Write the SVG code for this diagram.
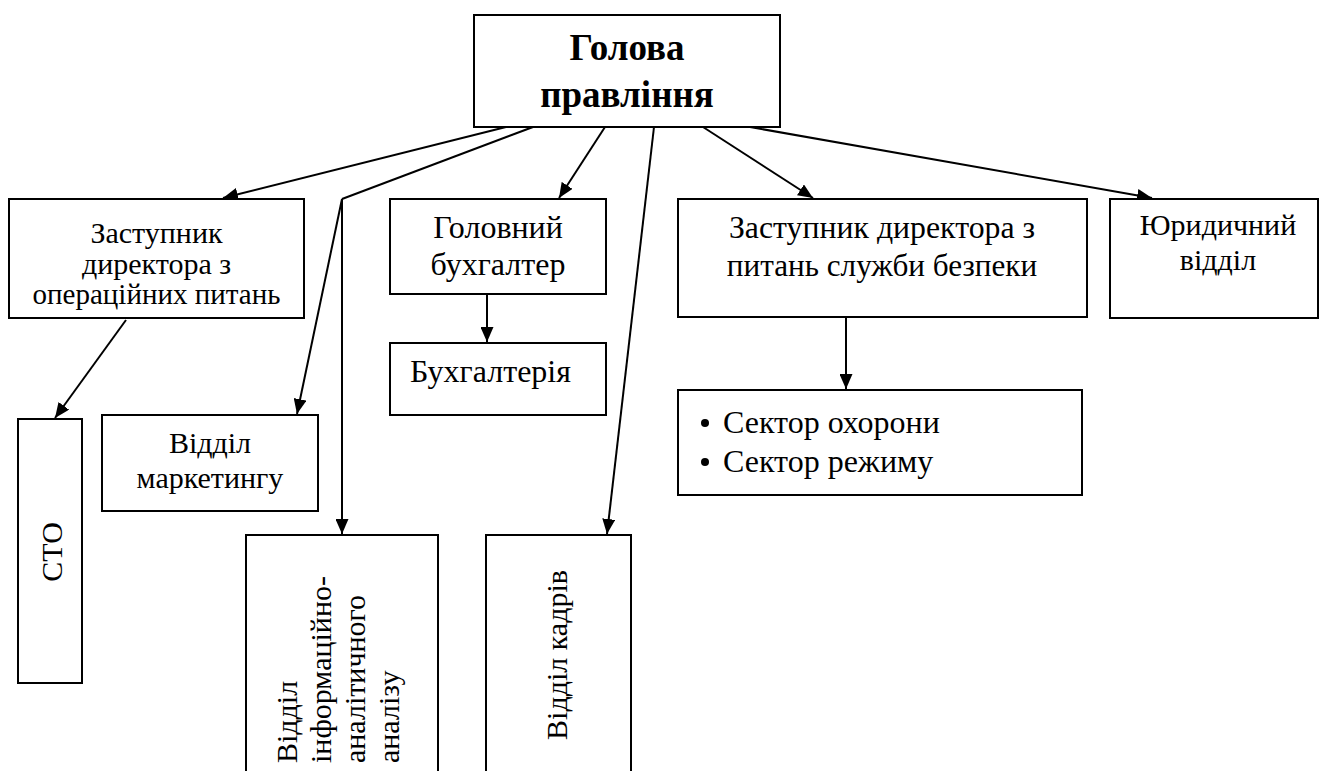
<svg xmlns="http://www.w3.org/2000/svg" width="1319" height="771" viewBox="0 0 1319 771">
<style>
.box{fill:#fff;stroke:#000;stroke-width:2}
text{font-family:'Liberation Serif','Times New Roman',serif;font-size:30px;fill:#000}
.c{text-anchor:middle}
.b{font-weight:bold;font-size:37px}
.l{font-size:32px}
.ln{fill:none;stroke:#000;stroke-width:2}
</style>
<defs>
<marker id="ah" markerWidth="15" markerHeight="13" refX="15" refY="6.5" orient="auto" markerUnits="userSpaceOnUse">
<path d="M0,0 L15,6.5 L0,13 Z" fill="#000"/>
</marker>
</defs>
<rect width="1319" height="771" fill="#fff"/>
<g id="connectors">
<line class="ln" x1="506" y1="127" x2="223" y2="198" marker-end="url(#ah)"/>
<polyline class="ln" points="533,127 342,199"/>
<line class="ln" x1="342" y1="199" x2="297" y2="414" marker-end="url(#ah)"/>
<line class="ln" x1="342" y1="199" x2="342" y2="534" marker-end="url(#ah)"/>
<line class="ln" x1="605" y1="127" x2="559" y2="198" marker-end="url(#ah)"/>
<line class="ln" x1="654" y1="127" x2="607" y2="534" marker-end="url(#ah)"/>
<line class="ln" x1="703" y1="127" x2="813" y2="198" marker-end="url(#ah)"/>
<line class="ln" x1="750" y1="127" x2="1152" y2="198" marker-end="url(#ah)"/>
<line class="ln" x1="126" y1="320" x2="55" y2="418" marker-end="url(#ah)"/>
<line class="ln" x1="487" y1="295" x2="487" y2="342" marker-end="url(#ah)"/>
<line class="ln" x1="846" y1="318" x2="846" y2="389" marker-end="url(#ah)"/>
</g>
<g id="n-head">
<rect class="box" x="474" y="15" width="306" height="112"/>
<text class="b c" x="627" y="60">Голова</text>
<text class="b c" x="627" y="107">правління</text>
</g>
<g id="n-deputy-ops">
<rect class="box" x="9" y="199" width="295" height="119"/>
<text class="c" x="156.5" y="243">Заступник</text>
<text class="c" x="156.5" y="274">директора з</text>
<text class="c" x="156.5" y="304" style="font-size:29px">операційних питань</text>
</g>
<g id="n-chief-acc">
<rect class="box" x="390" y="199" width="216" height="95"/>
<text class="c l" x="498" y="238">Головний</text>
<text class="c l" x="498" y="275">бухгалтер</text>
</g>
<g id="n-accounting">
<rect class="box" x="390" y="343" width="216" height="72"/>
<text class="l" x="410" y="382">Бухгалтерія</text>
</g>
<g id="n-deputy-sec">
<rect class="box" x="678" y="199" width="409" height="118"/>
<text class="c" x="882" y="238" style="font-size:31.8px">Заступник директора з</text>
<text class="c" x="882" y="276" style="font-size:31.2px">питань служби безпеки</text>
</g>
<g id="n-legal">
<rect class="box" x="1110" y="199" width="208" height="119"/>
<text class="c" x="1218" y="235">Юридичний</text>
<text class="c" x="1218" y="270">відділ</text>
</g>
<g id="n-sectors">
<rect class="box" x="678" y="390" width="404" height="105"/>
<circle cx="705" cy="423" r="4" fill="#000"/>
<circle cx="705" cy="462" r="4" fill="#000"/>
<text class="l" x="723" y="433">Сектор охорони</text>
<text class="l" x="723" y="472">Сектор режиму</text>
</g>
<g id="n-cto">
<rect class="box" x="18" y="419" width="64" height="264"/>
<text class="c" transform="translate(62,552) rotate(-90)">СТО</text>
</g>
<g id="n-marketing">
<rect class="box" x="102" y="415" width="216" height="96"/>
<text class="c" x="210" y="453">Відділ</text>
<text class="c" x="210" y="488">маркетингу</text>
</g>
<g id="n-info">
<rect class="box" x="246" y="535" width="192" height="260"/>
<text transform="rotate(-90)">
<tspan x="-763" y="297">Відділ</tspan>
<tspan x="-763" y="331">інформаційно-</tspan>
<tspan x="-763" y="365">аналітичного</tspan>
<tspan x="-763" y="399">аналізу</tspan>
</text>
</g>
<g id="n-hr">
<rect class="box" x="486" y="535" width="145" height="260"/>
<text class="c" transform="translate(567,655) rotate(-90)">Відділ кадрів</text>
</g>
</svg>
